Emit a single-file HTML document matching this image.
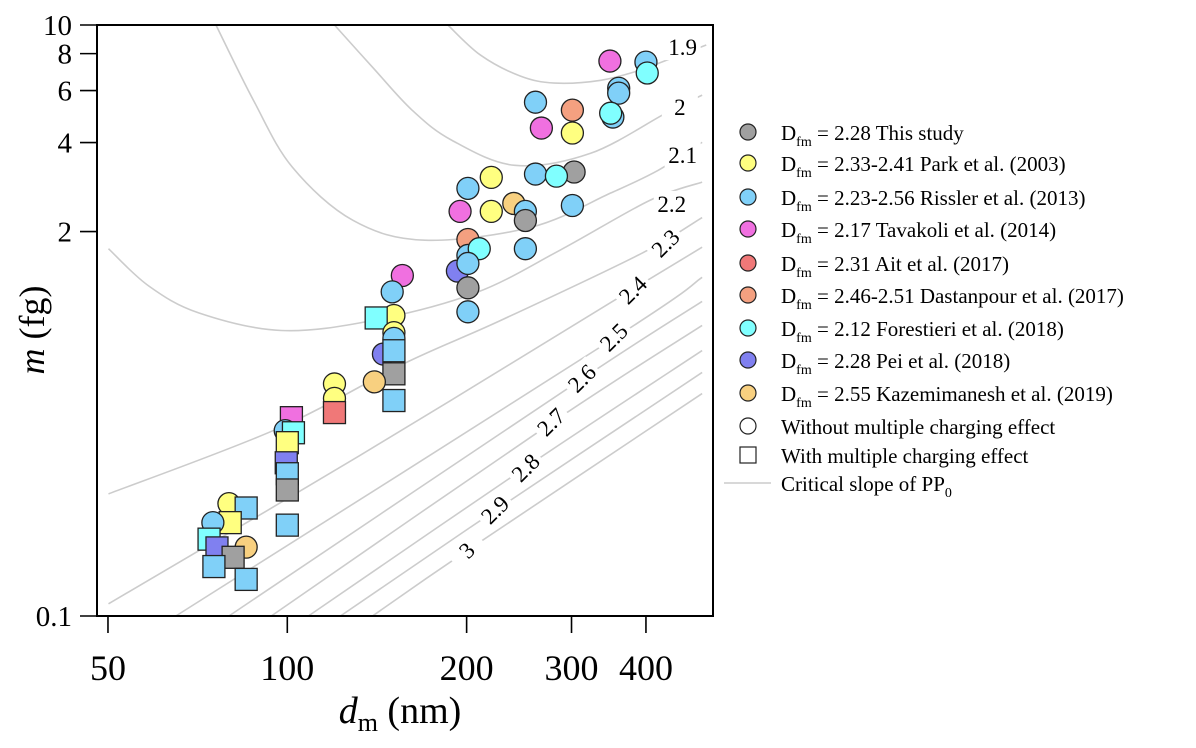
<!DOCTYPE html>
<html><head><meta charset="utf-8"><style>
body{margin:0;background:#fff;}
svg{display:block;font-family:"Liberation Serif",serif;}
</style></head><body>
<svg id="chart" width="1196" height="748" viewBox="0 0 1196 748" xmlns="http://www.w3.org/2000/svg">
<g id="curves"></g>
<g id="curvelabels"></g>
<g id="marks"></g>
<rect x="97" y="25" width="616" height="591" fill="none" stroke="#000" stroke-width="2"/>
<g id="axes"></g>
<text transform="translate(44,330) rotate(-90)" text-anchor="middle" font-size="36"><tspan font-style="italic">m</tspan> (fg)</text>
<text x="400" y="723" text-anchor="middle" font-size="38"><tspan font-style="italic">d</tspan><tspan font-size="26" dy="8">m</tspan><tspan dy="-8"> (nm)</tspan></text>
<g id="legend"></g>
</svg>
<script>
const xTicks=[50,100,200,300,400];
const yTicks=[10,8,6,4,2,0.1];
const yTickLabels=["10","8","6","4","2","0.1"];
const curveNames=["1.9","2","2.1","2.2","2.3","2.4","2.5","2.6","2.7","2.8","2.9","3"];
const curveD=[
[186,211,246,281,336,392,426,505],
[120,139,162,189,241,323,432,497],
[75.9,87.7,102,129,170,257,349,419,497],
[50.1,58.5,71.1,97.7,139,207,287,406,497],
[50.1,96.2,157,228,394,497],
[50.1,132,349,497],
[65,355,497],
[79.8,313,497],
[94,278,497],
[108.5,251,497],
[122.8,223,497],
[139,200,497]];
const curveM=[
[10,7.91,6.72,6.36,6.5,7.04,7.5,8.56],
[10,7.2,5.15,4.07,3.35,3.68,5.03,5.79],
[10,5.57,3.3,2.18,1.87,2.07,2.7,3.22,4.01],
[1.75,1.31,1.06,0.925,1.0,1.24,1.73,2.55,2.94],
[0.259,0.43,0.715,1.0,1.69,2.23],
[0.11,0.348,1.15,1.77],
[0.1,0.875,1.40],
[0.1,0.636,1.16],
[0.1,0.451,0.962],
[0.1,0.318,0.791],
[0.1,0.227,0.667],
[0.1,0.166,0.566]];
const labelD=[461,456,461,442,431,380,353,312,277,251,223,200];
const labelM=[8.42,5.28,3.63,2.48,1.83,1.27,0.879,0.638,0.454,0.318,0.229,0.167];
const labelRot=[0,0,0,0,-45,-45,-45,-45,-45,-45,-45,-45];
const series=["This study","Park","Rissler","Tavakoli","Ait","Dastanpour","Forestieri","Pei","Kazemimanesh"];
const colors=["#a0a0a0","#ffff80","#80d0f8","#f070e0","#f07878","#f4a080","#80ffff","#8080f0","#f8d080"];
// series index per point
const ptSeries=[3,2,6,2,2,2,6,2,5,3,1,0,2,6,1,2,8,2,0,1,3,2,5,2,2,6,7,2,3,2,0,2,
1,6,1,2,7,2,0,8,1,1,4,2,3,2,6,1,7,2,0,2,1,2,1,2,6,7,8,0,2,2];
// mobility diameter (nm)
const ptD=[348,400,402,360,360,352,349,261,301,267,301,303,261,283,220,201,240,251,251,220,195,301,201,251,201,210,193,201,156,150,201,201,
151,141,151,151,145,151,151,140,120,120,120,151,101.6,99.2,102.4,100,99.6,100,100,100,79.8,85.3,80.2,75,73.9,76.2,85.3,81.1,75.3,85.3];
// mass (fg)
const ptM=[7.55,7.49,6.88,6.11,5.88,4.88,5.03,5.48,5.15,4.48,4.31,3.18,3.13,3.08,3.05,2.80,2.49,2.34,2.18,2.34,2.34,2.45,1.88,1.75,1.66,1.75,1.47,1.56,1.42,1.25,1.29,1.07,
1.04,1.02,0.91,0.87,0.77,0.79,0.66,0.62,0.61,0.545,0.488,0.536,0.469,0.424,0.417,0.386,0.33,0.303,0.267,0.203,0.24,0.232,0.207,0.207,0.182,0.17,0.171,0.158,0.147,0.133];
// 0 circle (without multiple charging), 1 square (with)
const ptShape=[0,0,0,0,0,0,0,0,0,0,0,0,0,0,0,0,0,0,0,0,0,0,0,0,0,0,0,0,0,0,0,0,
0,1,0,0,0,1,1,0,0,0,1,1,1,0,1,1,1,1,1,1,0,1,1,0,1,1,0,1,1,1];
</script>
<script>
const NS="http://www.w3.org/2000/svg";
function X(d){return 287.3+595.7*Math.log10(d/100);}
function Y(m){return 25+295.5*(1-Math.log10(m));}
function mk(tag,attrs,parent){const e=document.createElementNS(NS,tag);for(const k in attrs)e.setAttribute(k,attrs[k]);parent.appendChild(e);return e;}
const gC=document.getElementById('curves'),gL=document.getElementById('curvelabels'),gM=document.getElementById('marks'),gA=document.getElementById('axes'),gLeg=document.getElementById('legend');
curveD.forEach((ds,i)=>{
  const pts=ds.map((d,j)=>[X(d),Y(curveM[i][j])]);
  let p="M"+pts[0][0]+","+pts[0][1];
  for(let j=1;j<pts.length;j++){
    const p0=pts[Math.max(j-2,0)],p1=pts[j-1],p2=pts[j],p3=pts[Math.min(j+1,pts.length-1)];
    const c1=[p1[0]+(p2[0]-p0[0])/6,p1[1]+(p2[1]-p0[1])/6],c2=[p2[0]-(p3[0]-p1[0])/6,p2[1]-(p3[1]-p1[1])/6];
    p+=" C"+c1+" "+c2+" "+p2;
  }
  const path=mk('path',{d:p,fill:'none',stroke:'#cccccc','stroke-width':1.6},gC);
  
  
  const lx=X(labelD[i]),ly=Y(labelM[i]);
  const g=mk('g',{transform:`translate(${lx},${ly}) rotate(${labelRot[i]})`},gL);
  mk('rect',{x:-18,y:-13,width:36,height:26,fill:'#fff'},g);
  const t=mk('text',{x:0,y:8,'text-anchor':'middle','font-size':23},g);
  t.textContent=curveNames[i];
  
  
});
ptD.forEach((d,i)=>{
  const cx=X(d),cy=Y(ptM[i]),col=colors[ptSeries[i]];
  let e;
  if(ptShape[i]===0) e=mk('circle',{cx:cx,cy:cy,r:11,fill:col,stroke:'#222','stroke-width':1.3},gM);
  else e=mk('rect',{x:cx-11,y:cy-11,width:22,height:22,fill:col,stroke:'#222','stroke-width':1.3},gM);
  
  
});
xTicks.forEach(v=>{
  const x=X(v);
  mk('line',{x1:x,y1:616,x2:x,y2:633,stroke:'#000','stroke-width':1.6},gA);
  const t=mk('text',{x:x,y:680,'text-anchor':'middle','font-size':36},gA);
  t.textContent=String(v);
  
  
});
yTicks.forEach((v,i)=>{
  const y=Y(v);
  mk('line',{x1:80,y1:y,x2:97,y2:y,stroke:'#000','stroke-width':1.6},gA);
  const t=mk('text',{x:72,y:y+10,'text-anchor':'end','font-size':29},gA);
  t.textContent=yTickLabels[i];
  
  
});
const legTexts=["2.28 This study","2.33-2.41 Park et al. (2003)","2.23-2.56 Rissler et al. (2013)","2.17 Tavakoli et al. (2014)","2.31 Ait et al. (2017)","2.46-2.51 Dastanpour et al. (2017)","2.12 Forestieri et al. (2018)","2.28 Pei et al. (2018)","2.55 Kazemimanesh et al. (2019)"];
const legY=[132,163,197,229,263,295,328,360,393];
legTexts.forEach((s,i)=>{
  const y=legY[i];
  const c=mk('circle',{cx:748,cy:y,r:8,fill:colors[i],stroke:'#222','stroke-width':1.2},gLeg);
  
  
  const t=mk('text',{x:781,y:y+8,'font-size':21},gLeg);
  t.innerHTML='D<tspan font-size="14" dy="6">fm</tspan><tspan dy="-6"> = '+s+'</tspan>';
  
  
});
mk('circle',{cx:748,cy:426,r:8,fill:'#fff',stroke:'#222','stroke-width':1.2},gLeg);
let t1=mk('text',{x:781,y:434,'font-size':21},gLeg);t1.textContent="Without multiple charging effect";


mk('rect',{x:740,y:447,width:16,height:16,fill:'#fff',stroke:'#222','stroke-width':1.2},gLeg);
let t2=mk('text',{x:781,y:463,'font-size':21},gLeg);t2.textContent="With multiple charging effect";


mk('line',{x1:724,y1:483,x2:771,y2:483,stroke:'#cccccc','stroke-width':1.6},gLeg);
let t3=mk('text',{x:781,y:491,'font-size':21},gLeg);t3.innerHTML='Critical slope of PP<tspan font-size="14" dy="6">0</tspan>';


</script>
</body></html>
